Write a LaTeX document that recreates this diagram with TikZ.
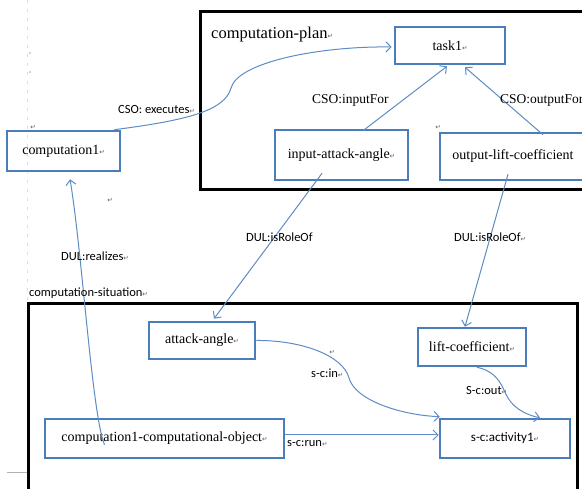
\documentclass[tikz,border=0pt]{standalone}
\usepackage{fontspec}
\setmainfont{Liberation Serif}
\newfontfamily\lblfont{Carlito}
\newfontfamily\symfont{DejaVu Sans}
\usetikzlibrary{arrows.meta}
\definecolor{boxblue}{RGB}{74,126,187}
\definecolor{linkblue}{RGB}{95,140,196}
\definecolor{markgray}{RGB}{90,90,90}
% paragraph mark that follows the texts
\newcommand{\pmk}{{\symfont\fontsize{6.5}{6.5}\selectfont\textcolor{markgray}{↵}}}
\begin{document}
\begin{tikzpicture}[x=1pt,y=-1pt,
  frame/.style={draw=black,line width=3pt},
  entity/.style={draw=boxblue,line width=2.6pt,inner sep=0pt,
    font=\fontsize{14}{16}\selectfont},
  link/.style={draw=linkblue,line width=1pt,-{Straight Barb[length=5pt,width=10pt]}},
  lbl/.style={anchor=west,inner sep=0pt,font=\lblfont\fontsize{12.5}{14}\selectfont},
  slbl/.style={anchor=west,inner sep=0pt,font=\fontsize{13.5}{15}\selectfont},
  stray/.style={inner sep=0pt}]
\useasboundingbox (0,0) rectangle (582,489);
\fill[white] (0,0) rectangle (582,489);
\begin{scope}
\clip (0,0) rectangle (582,489);

% page margin marks
\draw[gray!25,line width=0.6pt,dash pattern=on 3pt off 6pt] (27,0) -- (27,300);
\fill[gray!70] (30,53) circle (0.9);
\fill[gray!70] (30,72) circle (0.9);
\draw[gray!60,line width=0.8pt] (7,472) -- (28,472);
\node[stray] (m1) at (33,127) {\pmk};
\node[stray] (m2) at (110,200) {\pmk};
\node[stray] (m3) at (438,127) {\pmk};
\node[stray] (m4) at (332,352) {\pmk};

% frames
\draw[frame] (200,12) rectangle (590,190);
\draw[frame] (28,304) rectangle (577,495);
\node[anchor=west,inner sep=0pt,font=\fontsize{16.5}{18}\selectfont] (plan) at (211,35) {computation-plan\pmk};

% entities
\node[entity,minimum width=110pt,minimum height=37pt] (task) at (450,45.5) {task1\pmk};
\node[entity,minimum width=133pt,minimum height=50pt] (ia) at (341.5,155) {input-attack-angle\pmk};
\node[entity,minimum width=146pt,minimum height=47pt] (olc) at (513,156.5) {output-lift-coefficient};
\node[entity,minimum width=113pt,minimum height=40pt] (comp) at (63.5,151) {computation1\pmk};
\node[entity,minimum width=106pt,minimum height=37pt] (aa) at (202,340.5) {attack-angle\pmk};
\node[entity,minimum width=108pt,minimum height=38pt] (lc) at (472,347) {lift-coefficient\pmk};
\node[entity,minimum width=239pt,minimum height=39pt] (obj) at (164.5,438.5) {computation1-computational-object\pmk};
\node[entity,minimum width=130pt,minimum height=39pt,font=\lblfont\fontsize{13}{15}\selectfont] (act) at (505,438.5) {s-c:activity1\pmk};

% connectors (shifts are in page direction: negative yshift goes down)
\draw[link] ([xshift=-7pt]comp.north east) .. controls (190,120) and (225,110) .. (231,88)
  .. controls (238,62) and (320,46) .. ([xshift=-2pt,yshift=-1.5pt]task.west);
\draw[link] ([xshift=21.5pt,yshift=-2pt]ia.north) -- ([xshift=-3pt,yshift=-1pt]task.south);
\draw[link] ([xshift=30pt,yshift=-3pt]olc.north) -- ([xshift=15pt,yshift=-2pt]task.south);
\draw[link] ([xshift=-19.5pt,yshift=8pt]ia.south) -- ([xshift=12pt,yshift=2pt]aa.north);
\draw[link] ([xshift=-5pt,yshift=7pt]olc.south) -- ([xshift=-7pt]lc.north);
\draw[link] ([xshift=-60pt,yshift=-27pt]obj.north) .. controls (92,415) and (82,250) .. ([xshift=6.5pt,yshift=-7pt]comp.south);
\draw[link] (aa.east) .. controls (300,340) and (343,355) .. (349,378)
  .. controls (355,400) and (400,415) .. ([xshift=1pt,yshift=1pt]act.north west);
\draw[link] ([xshift=5pt]lc.south) .. controls (500,372) and (503,390) .. (508,398)
  .. controls (515,410) and (530,416) .. ([xshift=35pt]act.north);
\draw[link] ([yshift=3.5pt]obj.east) -- ([yshift=3.5pt]act.west);

% connector labels
\node[lbl] (lexec) at (118,109) {CSO: executes\pmk};
\node[slbl] (lin) at (312,100) {CSO:inputFor};
\node[slbl] (lout) at (500,100) {CSO:outputFor};
\node[lbl] (lrole1) at (246,237) {DUL:isRoleOf};
\node[lbl] (lrole2) at (454,237) {DUL:isRoleOf\pmk};
\node[lbl] (lreal) at (61,256) {DUL:realizes\pmk};
\node[lbl] (lsit) at (29,293) {computation-situation\pmk};
\node[lbl] (lscin) at (311,373) {s-c:in\pmk};
\node[lbl] (lscout) at (466,390) {S-c:out\pmk};
\node[lbl] (lscrun) at (287,444) {s-c:run\pmk};
\end{scope}
\end{tikzpicture}
\end{document}
